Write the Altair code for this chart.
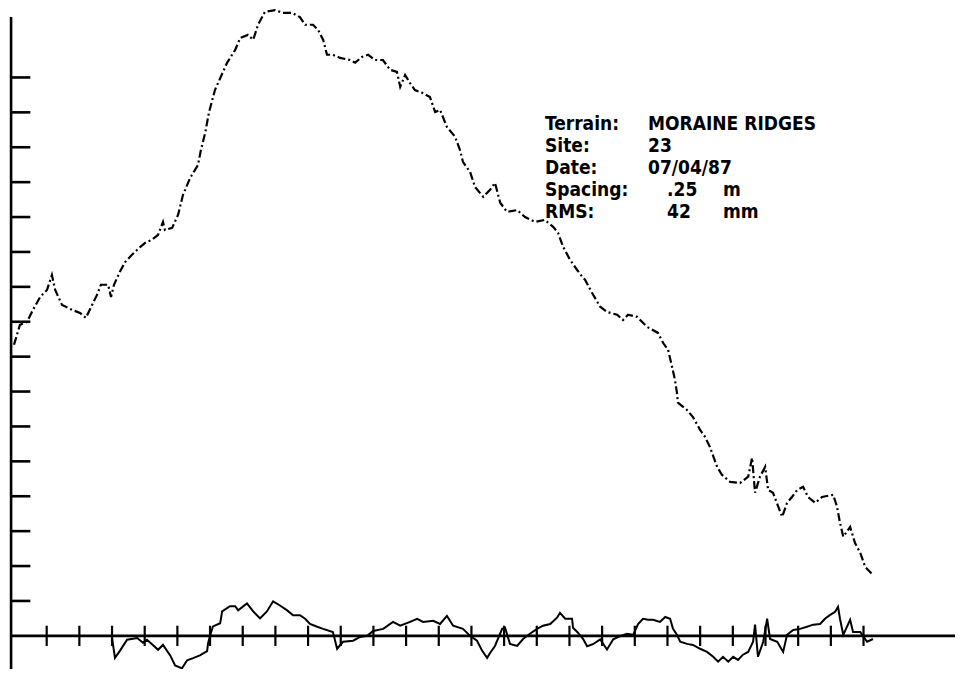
import altair as alt
import pandas as pd

# ---- upper profile: distance (m, 1 tick = 1 m) and elevation (mm) ----
prof_x = [0.00, 0.18, 0.40, 0.58, 0.80, 1.01, 1.16, 1.26, 1.47, 1.78, 2.02, 2.20, 2.39, 2.54, 2.66,
          2.88, 2.97, 3.06, 3.24, 3.40, 3.61, 3.86, 4.01, 4.22, 4.41, 4.56, 4.62, 4.84, 5.02, 5.17,
          5.39, 5.63, 5.72, 5.85, 5.97, 6.15, 6.52, 6.77, 6.92, 7.16, 7.32, 7.47, 7.68, 7.99, 8.23,
          8.51, 8.75, 8.91, 9.15, 9.31, 9.46, 9.58, 9.76, 9.98, 10.28, 10.44, 10.65, 10.84, 11.05,
          11.29, 11.51, 11.72, 11.82, 11.97, 12.12, 12.27, 12.49, 12.73, 12.89, 13.04, 13.25, 13.50,
          13.65, 13.74, 13.96, 14.11, 14.36, 14.57, 14.72, 14.88, 15.09, 15.40, 15.64, 15.95, 16.25,
          16.50, 16.65, 16.81, 17.02, 17.23, 17.39, 17.48, 17.69, 17.94, 18.15, 18.46, 18.64, 18.79,
          19.07, 19.38, 19.71, 19.87, 20.02, 20.14, 20.23, 20.29, 20.32, 20.60, 20.78, 21.00, 21.15,
          21.30, 21.52, 21.67, 21.92, 22.22, 22.47, 22.59, 22.68, 22.83, 22.99, 23.08, 23.23, 23.51,
          23.66, 23.81, 23.97, 24.15, 24.30, 24.52, 24.73, 25.07, 25.19, 25.28, 25.38, 25.59, 25.74,
          25.90, 26.05, 26.20, 26.29]
prof_y = [834, 891, 900, 934, 971, 991, 1034, 991, 948, 934, 925, 911, 948, 977, 1006,
          1006, 971, 1006, 1043, 1071, 1092, 1114, 1126, 1135, 1149, 1186, 1163, 1169, 1206, 1263,
          1312, 1349, 1392, 1441, 1501, 1564, 1642, 1679, 1713, 1722, 1708, 1751, 1788, 1793, 1785,
          1785, 1773, 1751, 1751, 1736, 1708, 1665, 1665, 1656, 1650, 1642, 1659, 1665, 1650,
          1650, 1622, 1616, 1573, 1607, 1584, 1564, 1556, 1544, 1501, 1507, 1458, 1430,
          1392, 1358, 1329, 1286, 1258, 1278, 1298, 1241, 1215, 1220, 1200, 1186, 1192,
          1172, 1155, 1114, 1077, 1049, 1029, 1020, 983, 943, 928, 920, 905, 920,
          914, 885, 868, 839, 819, 771, 733, 696, 668, 647, 627, 590, 570,
          541, 484, 461, 441, 438, 456, 510, 410, 456, 484, 418, 410, 341,
          381, 398, 418, 427, 398, 381, 398, 404, 370, 324, 284, 312, 266,
          238, 198, 183, 175]

# ---- lower (detrended) profile ----
res_x = [3.00, 3.09, 3.24, 3.46, 3.77, 3.95, 4.07, 4.25, 4.41, 4.56, 4.78, 4.93, 5.14, 5.30, 5.48,
         5.69, 5.91, 5.94, 6.00, 6.09, 6.31, 6.37, 6.61, 6.77, 6.86, 7.13, 7.32, 7.53, 7.74, 7.93,
         8.14, 8.36, 8.54, 8.75, 8.91, 9.06, 9.28, 9.46, 9.76, 9.89, 10.07, 10.38, 10.59, 10.81,
         10.99, 11.30, 11.60, 11.82, 12.12, 12.34, 12.52, 12.83, 13.04, 13.25, 13.44, 13.74, 13.96,
         14.17, 14.33, 14.48, 14.57, 14.72, 14.94, 15.03, 15.18, 15.40, 15.58, 15.79, 16.01, 16.19,
         16.41, 16.62, 16.71, 16.87, 17.08, 17.11, 17.26, 17.42, 17.54, 17.72, 17.94, 18.15, 18.34,
         18.55, 18.76, 18.95, 19.10, 19.25, 19.41, 19.56, 19.77, 19.93, 20.08, 20.17, 20.29, 20.39,
         20.60, 20.78, 21.00, 21.21, 21.40, 21.55, 21.70, 21.86, 22.01, 22.16, 22.31, 22.47, 22.62,
         22.68, 22.77, 22.93, 23.05, 23.14, 23.36, 23.54, 23.66, 23.85, 24.06, 24.27, 24.46, 24.67,
         24.82, 24.98, 25.13, 25.22, 25.28, 25.38, 25.59, 25.68, 25.90, 26.11, 26.29]
res_y = [-6, -63, -43, -11, -6, -20, -11, -26, -40, -26, -56, -85, -93, -70, -64,
         -56, -44, -21, 1, 27, 36, 70, 85, 85, 73, 93, 70, 50, 70, 99,
         87, 73, 59, 59, 49, 34, 26, 20, 11, -37, -17, -14, -3, 0,
         14, 20, 40, 29, 40, 49, 40, 43, 34, 57, 29, 20, 0,
         -14, -43, -63, -49, -29, 20, 23, -23, -29, -9, 6, 20, 29,
         34, 52, 66, 49, 49, 23, 9, -9, -30, -24, -10, -39, -10,
         -1, 6, 3, 34, 49, 46, 46, 40, 54, 49, 20, 3, -17,
         -23, -26, -37, -46, -60, -74, -60, -74, -60, -69, -54, -46, -17,
         32, -60, -17, 49, -9, -17, -46, 3, 17, 20, 26, 32, 34,
         49, 60, 69, 83, 49, 3, 46, 11, 11, -17, -9]

# ---- axis tick values ----
x_ticks = list(range(1, 27))
y_ticks = list(range(100, 1700, 100))

info_labels = ["Terrain:", "Site:", "Date:", "Spacing:", "RMS:"]
info_values = ["MORAINE RIDGES", "23", "07/04/87", ".25", "42"]
info_units = ["", "", "", "m", "mm"]

X_DOM = [-0.184, 28.80]
Y_DOM = [-95.0, 1799]
AX_X = -0.09        # position of the vertical axis
TICK_X2 = 0.5       # right end of y ticks
Y_TOP = 1773        # top of vertical axis
XT_HALF = 29        # half-length of x ticks (mm units)

xs = alt.Scale(domain=X_DOM, nice=False, zero=False)
ys = alt.Scale(domain=Y_DOM, nice=False, zero=False)

prof = pd.DataFrame({"x": prof_x, "y": prof_y})
res = pd.DataFrame({"x": res_x, "y": res_y})


def X(f="x"):
    return alt.X(f"{f}:Q", scale=xs, axis=None)


def Y(f="y"):
    return alt.Y(f"{f}:Q", scale=ys, axis=None)


upper = alt.Chart(prof).mark_line(color="black", strokeWidth=2.2, strokeDash=[8, 3, 2, 3]).encode(
    x=X(), y=Y()
)
lower = alt.Chart(res).mark_line(color="black", strokeWidth=2).encode(x=X(), y=Y())

yaxis = alt.Chart(pd.DataFrame({"x": [AX_X], "y": [Y_DOM[0]], "y2": [Y_TOP]})).mark_rule(
    color="black", strokeWidth=2.6
).encode(x=X(), y=Y(), y2="y2:Q")

xaxis = alt.Chart(pd.DataFrame({"x": [AX_X], "x2": [X_DOM[1]], "y": [0]})).mark_rule(
    color="black", strokeWidth=2.6
).encode(x=X(), x2="x2:Q", y=Y())

yt = alt.Chart(pd.DataFrame({"y": y_ticks, "x": [AX_X] * len(y_ticks), "x2": [TICK_X2] * len(y_ticks)})).mark_rule(
    color="black", strokeWidth=2.6
).encode(x=X(), x2="x2:Q", y=Y())

xt = alt.Chart(pd.DataFrame({"x": x_ticks, "y": [-XT_HALF] * len(x_ticks), "y2": [XT_HALF] * len(x_ticks)})).mark_rule(
    color="black", strokeWidth=2.2
).encode(x=X(), y=Y(), y2="y2:Q")

FONT = "DejaVu Sans Condensed, Liberation Sans Narrow, sans-serif"
rows_y = [122, 144, 166, 188, 210]
texts = []
for i in range(5):
    pieces = [(info_labels[i], 537)]
    if i < 3:
        pieces.append((info_values[i], 640))
    else:
        pieces.append((info_values[i], 659))
    if info_units[i]:
        pieces.append((info_units[i], 715))
    for s, px in pieces:
        texts.append(
            alt.Chart(pd.DataFrame({"t": [s]})).mark_text(
                align="left", baseline="alphabetic", font=FONT, fontSize=19,
                fontWeight="bold", color="black"
            ).encode(x=alt.value(px), y=alt.value(rows_y[i]), text="t:N")
        )

# plot height chosen so that 100 mm keeps the same pixel spacing as before
chart = alt.layer(yaxis, xaxis, yt, xt, upper, lower, *texts).properties(
    width=947, height=661,
    autosize=alt.AutoSizeParams(type="none"),
    padding={"left": 0, "top": 0, "right": 0, "bottom": 0},
    background="white",
).configure_view(strokeWidth=0)

chart.save("out.html", embed_options={"renderer": "svg", "actions": False})
